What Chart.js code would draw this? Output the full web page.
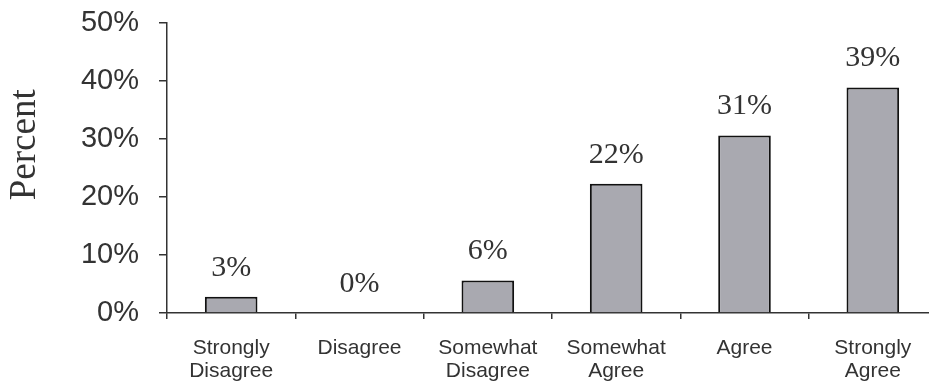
<!DOCTYPE html>
<html>
<head>
<meta charset="utf-8">
<script src="https://cdn.jsdelivr.net/npm/chart.js@4/dist/chart.umd.min.js"></script>
<style>
  html, body { margin: 0; padding: 0; background: #fff; overflow: hidden; }
  #wrap { width: 937px; height: 383px; }
</style>
</head>
<body>
<div id="wrap"><canvas id="myChart" width="937" height="383"></canvas></div>
<script>
const categories = [['Strongly', 'Disagree'], 'Disagree', ['Somewhat', 'Disagree'], ['Somewhat', 'Agree'], 'Agree', ['Strongly', 'Agree']];
const percents = [2.8, 0, 5.6, 22.3, 30.6, 38.9];
const yTicks = [0, 10, 20, 30, 40, 50];
const yTitle = 'Percent';

// labels above each bar, serif like the original
const barLabels = {
    id: 'barLabels',
    afterDatasetsDraw(chart) {
        const ctx = chart.ctx;
        const meta = chart.getDatasetMeta(0);
        ctx.save();
        ctx.font = '30px "Liberation Serif", serif';
        ctx.fillStyle = '#333';
        ctx.textAlign = 'center';
        ctx.textBaseline = 'middle';
        meta.data.forEach(function (bar, i) {
            ctx.fillText(Math.round(percents[i]) + '%', bar.x, bar.y - 29);
        });
        ctx.restore();
    }
};

// y title sits a bit above the middle in the original, so draw it by hand
const sideTitle = {
    id: 'sideTitle',
    afterDraw(chart) {
        const ctx = chart.ctx;
        const area = chart.chartArea;
        ctx.save();
        ctx.translate(25, area.top + (area.bottom - area.top) * 0.42);
        ctx.rotate(-Math.PI / 2);
        ctx.font = '37px "Liberation Serif", serif';
        ctx.fillStyle = '#333';
        ctx.textAlign = 'center';
        ctx.textBaseline = 'middle';
        ctx.fillText(yTitle, 0, 0);
        ctx.restore();
    }
};

document.addEventListener('DOMContentLoaded', function () {
    const ctx = document.getElementById('myChart');

    new Chart(ctx, {
        type: 'bar',
        data: {
            labels: categories,
            datasets: [{
                label: yTitle,
                data: percents,
                backgroundColor: '#a9a9b0',
                borderColor: '#111',
                borderWidth: 2,
                borderSkipped: 'bottom',
                barPercentage: 0.41,
                categoryPercentage: 1
            }]
        },
        options: {
            responsive: false,
            animation: false,
            layout: { padding: { top: 23, left: 0, right: 0, bottom: 0 } },
            plugins: {
                legend: { display: false },
                tooltip: { enabled: false }
            },
            scales: {
                y: {
                    min: 0,
                    max: 50,
                    afterBuildTicks: function (scale) {
                        scale.ticks = yTicks.map(function (v) { return { value: v }; });
                    },
                    afterFit: function (scale) {
                        scale.width = 167;
                        scale.paddingTop = 0;
                        scale.paddingBottom = 0;
                    },
                    ticks: {
                        callback: function (v) { return v + '%'; },
                        font: { family: '"Liberation Sans", Arial, sans-serif', size: 29 },
                        color: '#333',
                        padding: 20
                    },
                    grid: { drawOnChartArea: false, tickLength: 8, color: '#333', lineWidth: 1.5 },
                    border: { color: '#333', width: 1.5 }
                },
                x: {
                    offset: true,
                    afterFit: function (scale) { scale.height = 70; },
                    ticks: {
                        font: { family: '"Liberation Sans", Arial, sans-serif', size: 21, lineHeight: 1.1 },
                        color: '#333',
                        padding: 18,
                        maxRotation: 0,
                        autoSkip: false
                    },
                    grid: { drawOnChartArea: false, offset: true, tickLength: 6, color: '#333', lineWidth: 1.5 },
                    border: { color: '#333', width: 1.5 }
                }
            }
        },
        plugins: [barLabels, sideTitle]
    });
});
</script>
</body>
</html>
